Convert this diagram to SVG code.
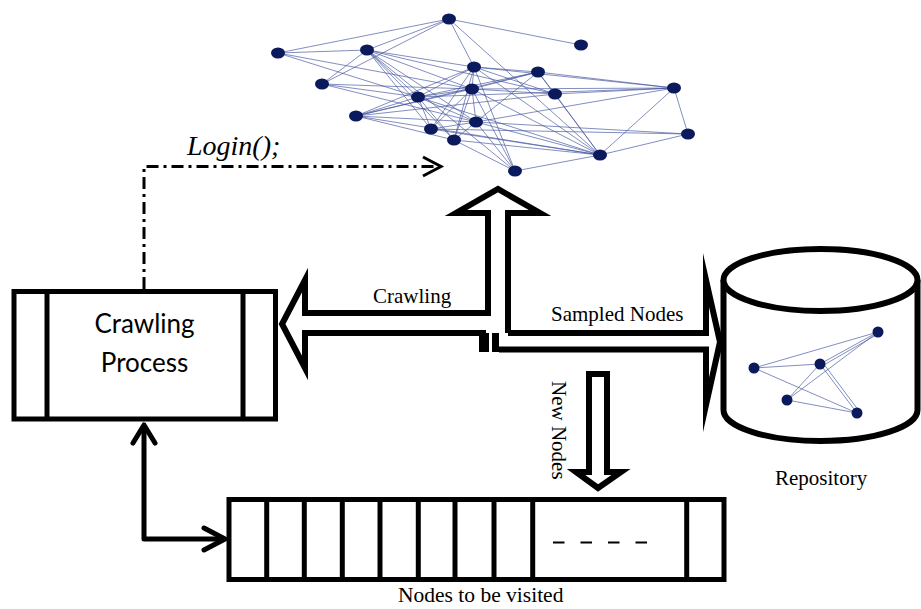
<svg xmlns="http://www.w3.org/2000/svg" width="921" height="609" viewBox="0 0 921 609">
  <style>
    .outline { fill: #fff; stroke: #000; stroke-width: 6; stroke-linejoin: miter; stroke-miterlimit: 20; }
    .box { fill: #fff; stroke: #000; stroke-width: 5; }
    .div { stroke: #000; stroke-width: 5; }
    .edge { stroke: #41519c; stroke-width: 1; stroke-opacity: 0.65; }
    .vtx { fill: #0b1a5c; }
    .serif { font-family: "Liberation Serif", "Times New Roman", serif; font-size: 21px; fill: #000; }
    .login { font-size: 28px; font-style: italic; }
    .sans { font-family: Lato, "Liberation Sans", sans-serif; font-size: 26px; fill: #000; }
    .dashdot { fill: none; stroke: #000; stroke-width: 3; stroke-dasharray: 12 5 3 5; }
    .thin { fill: none; stroke: #000; stroke-width: 3; }
    .link { fill: none; stroke: #000; stroke-width: 5; stroke-linecap: round; stroke-linejoin: round; }
  </style>

  <!-- social network being crawled -->
  <g id="network">
    <g id="network-edges">
      <line class="edge" x1="278" y1="53" x2="449" y2="19"/>
      <line class="edge" x1="278" y1="53" x2="367" y2="50"/>
      <line class="edge" x1="278" y1="53" x2="418" y2="97"/>
      <line class="edge" x1="278" y1="53" x2="472" y2="89"/>
      <line class="edge" x1="449" y1="19" x2="367" y2="50"/>
      <line class="edge" x1="449" y1="19" x2="322" y2="84"/>
      <line class="edge" x1="449" y1="19" x2="581" y2="45"/>
      <line class="edge" x1="449" y1="19" x2="600" y2="155"/>
      <line class="edge" x1="449" y1="19" x2="474" y2="67"/>
      <line class="edge" x1="367" y1="50" x2="322" y2="84"/>
      <line class="edge" x1="367" y1="50" x2="474" y2="67"/>
      <line class="edge" x1="367" y1="50" x2="418" y2="97"/>
      <line class="edge" x1="367" y1="50" x2="431" y2="129"/>
      <line class="edge" x1="367" y1="50" x2="454" y2="140"/>
      <line class="edge" x1="367" y1="50" x2="476" y2="122"/>
      <line class="edge" x1="367" y1="50" x2="472" y2="89"/>
      <line class="edge" x1="367" y1="50" x2="555" y2="94"/>
      <line class="edge" x1="367" y1="50" x2="515" y2="171"/>
      <line class="edge" x1="322" y1="84" x2="418" y2="97"/>
      <line class="edge" x1="322" y1="84" x2="472" y2="89"/>
      <line class="edge" x1="322" y1="84" x2="476" y2="122"/>
      <line class="edge" x1="356" y1="116" x2="418" y2="97"/>
      <line class="edge" x1="356" y1="116" x2="474" y2="67"/>
      <line class="edge" x1="356" y1="116" x2="472" y2="89"/>
      <line class="edge" x1="356" y1="116" x2="538" y2="72"/>
      <line class="edge" x1="356" y1="116" x2="476" y2="122"/>
      <line class="edge" x1="356" y1="116" x2="454" y2="140"/>
      <line class="edge" x1="356" y1="116" x2="600" y2="155"/>
      <line class="edge" x1="356" y1="116" x2="555" y2="94"/>
      <line class="edge" x1="418" y1="97" x2="474" y2="67"/>
      <line class="edge" x1="418" y1="97" x2="472" y2="89"/>
      <line class="edge" x1="418" y1="97" x2="431" y2="129"/>
      <line class="edge" x1="418" y1="97" x2="454" y2="140"/>
      <line class="edge" x1="418" y1="97" x2="476" y2="122"/>
      <line class="edge" x1="418" y1="97" x2="674" y2="88"/>
      <line class="edge" x1="418" y1="97" x2="600" y2="155"/>
      <line class="edge" x1="418" y1="97" x2="538" y2="72"/>
      <line class="edge" x1="431" y1="129" x2="474" y2="67"/>
      <line class="edge" x1="431" y1="129" x2="472" y2="89"/>
      <line class="edge" x1="431" y1="129" x2="476" y2="122"/>
      <line class="edge" x1="431" y1="129" x2="600" y2="155"/>
      <line class="edge" x1="431" y1="129" x2="688" y2="134"/>
      <line class="edge" x1="454" y1="140" x2="474" y2="67"/>
      <line class="edge" x1="454" y1="140" x2="472" y2="89"/>
      <line class="edge" x1="454" y1="140" x2="515" y2="171"/>
      <line class="edge" x1="454" y1="140" x2="600" y2="155"/>
      <line class="edge" x1="454" y1="140" x2="476" y2="122"/>
      <line class="edge" x1="476" y1="122" x2="538" y2="72" stroke-width="1.5"/>
      <line class="edge" x1="476" y1="122" x2="472" y2="89"/>
      <line class="edge" x1="476" y1="122" x2="674" y2="88"/>
      <line class="edge" x1="476" y1="122" x2="600" y2="155"/>
      <line class="edge" x1="476" y1="122" x2="515" y2="171"/>
      <line class="edge" x1="476" y1="122" x2="688" y2="134"/>
      <line class="edge" x1="474" y1="67" x2="538" y2="72"/>
      <line class="edge" x1="474" y1="67" x2="472" y2="89"/>
      <line class="edge" x1="474" y1="67" x2="674" y2="88"/>
      <line class="edge" x1="474" y1="67" x2="515" y2="171"/>
      <line class="edge" x1="474" y1="67" x2="600" y2="155"/>
      <line class="edge" x1="474" y1="67" x2="555" y2="94"/>
      <line class="edge" x1="472" y1="89" x2="538" y2="72"/>
      <line class="edge" x1="472" y1="89" x2="555" y2="94"/>
      <line class="edge" x1="472" y1="89" x2="674" y2="88"/>
      <line class="edge" x1="472" y1="89" x2="515" y2="171"/>
      <line class="edge" x1="472" y1="89" x2="600" y2="155"/>
      <line class="edge" x1="538" y1="72" x2="555" y2="94"/>
      <line class="edge" x1="538" y1="72" x2="674" y2="88"/>
      <line class="edge" x1="538" y1="72" x2="600" y2="155"/>
      <line class="edge" x1="555" y1="94" x2="674" y2="88"/>
      <line class="edge" x1="555" y1="94" x2="600" y2="155" stroke-width="1.5"/>
      <line class="edge" x1="674" y1="88" x2="600" y2="155"/>
      <line class="edge" x1="674" y1="88" x2="688" y2="134"/>
      <line class="edge" x1="688" y1="134" x2="600" y2="155"/>
      <line class="edge" x1="600" y1="155" x2="515" y2="171"/>
    </g>
    <g id="network-vertices">
      <ellipse class="vtx" cx="449" cy="19" rx="7" ry="5.5"/>
      <ellipse class="vtx" cx="581" cy="45" rx="7" ry="5.5"/>
      <ellipse class="vtx" cx="278" cy="53" rx="7" ry="5.5"/>
      <ellipse class="vtx" cx="367" cy="50" rx="7" ry="5.5"/>
      <ellipse class="vtx" cx="322" cy="84" rx="7" ry="5.5"/>
      <ellipse class="vtx" cx="474" cy="67" rx="7" ry="5.5"/>
      <ellipse class="vtx" cx="472" cy="89" rx="7" ry="5.5"/>
      <ellipse class="vtx" cx="418" cy="97" rx="7" ry="5.5"/>
      <ellipse class="vtx" cx="356" cy="116" rx="7" ry="5.5"/>
      <ellipse class="vtx" cx="431" cy="129" rx="7" ry="5.5"/>
      <ellipse class="vtx" cx="454" cy="140" rx="7" ry="5.5"/>
      <ellipse class="vtx" cx="476" cy="122" rx="7" ry="5.5"/>
      <ellipse class="vtx" cx="538" cy="72" rx="7" ry="5.5"/>
      <ellipse class="vtx" cx="555" cy="94" rx="7" ry="5.5"/>
      <ellipse class="vtx" cx="674" cy="88" rx="7" ry="5.5"/>
      <ellipse class="vtx" cx="688" cy="134" rx="7" ry="5.5"/>
      <ellipse class="vtx" cx="600" cy="155" rx="7" ry="5.5"/>
      <ellipse class="vtx" cx="515" cy="171" rx="7" ry="5.5"/>
    </g>
  </g>

  <!-- connectors -->
  <g id="connectors">
    <!-- Login(); dash-dot call to the network -->
    <path class="dashdot" d="M144,289 V166.5 H438"/>
    <path class="thin" d="M423,157 L441,166.5 L423,176"/>
    <text class="serif login" x="187" y="155">Login();</text>

    <!-- Crawling block arrow (left) joined with the up arrow -->
    <polyline class="outline" points="486,333 305,333 305,368 282,324 305,280 305,313 488,313 488,213 456,213 498,189 540,213 508,213 508,333"/>
    <text class="serif" x="373" y="303">Crawling</text>

    <!-- Sampled Nodes block arrow (right) -->
    <polyline class="outline" points="508,333 706,333 706,280 720,342 706,405 706,349.5 499,349.5"/>
    <rect x="479" y="333" width="10" height="19" fill="#000"/>
    <rect x="492" y="333" width="7" height="19" fill="#000"/>
    <text class="serif" x="551" y="321">Sampled Nodes</text>

    <!-- New Nodes block arrow (down) -->
    <polygon class="outline" stroke-width="5" points="589,374 607,374 607,472 621,472 598,488 576,472 589,472"/>
    <text class="serif" transform="translate(552,381) rotate(90)">New Nodes</text>

    <!-- two-way link between the process and the queue -->
    <path class="link" d="M144,428 V539 H222"/>
    <path class="link" d="M133,443 L144,425 L155,443"/>
    <path class="link" d="M204,528 L225,539 L204,550"/>
  </g>

  <!-- crawling process -->
  <g id="crawling-process">
    <rect class="box" x="14" y="291.5" width="261.5" height="127.5"/>
    <line class="div" x1="47" y1="291.5" x2="47" y2="419"/>
    <line class="div" x1="243" y1="291.5" x2="243" y2="419"/>
    <text class="sans" x="144.5" y="333" text-anchor="middle">Crawling</text>
    <text class="sans" x="144.5" y="372" text-anchor="middle">Process</text>
  </g>

  <!-- repository -->
  <g id="repository">
    <path fill="#fff" stroke="#000" stroke-width="6" d="M723.5,280 V410 A97,31 0 0 0 917.5,410 V280"/>
    <ellipse cx="820.5" cy="280" rx="97" ry="31" fill="#fff" stroke="#000" stroke-width="6"/>
    <g id="repository-edges">
      <line class="edge" x1="754" y1="368" x2="878" y2="332"/>
      <line class="edge" x1="754" y1="368" x2="820" y2="364"/>
      <line class="edge" x1="820" y1="364" x2="878" y2="332"/>
      <line class="edge" x1="822" y1="366" x2="878" y2="334"/>
      <line class="edge" x1="820" y1="364" x2="787" y2="400"/>
      <line class="edge" x1="787" y1="400" x2="878" y2="332"/>
      <line class="edge" x1="754" y1="368" x2="857" y2="413"/>
      <line class="edge" x1="787" y1="400" x2="857" y2="413"/>
      <line class="edge" x1="820" y1="364" x2="857" y2="413"/>
      <line class="edge" x1="823" y1="363" x2="859" y2="411"/>
    </g>
    <circle class="vtx" cx="878" cy="332" r="5.5"/>
    <circle class="vtx" cx="754" cy="368" r="5.5"/>
    <circle class="vtx" cx="820" cy="364" r="5.5"/>
    <circle class="vtx" cx="787" cy="400" r="5.5"/>
    <circle class="vtx" cx="857" cy="413" r="5.5"/>
    <text class="serif" x="775" y="485">Repository</text>
  </g>

  <!-- queue of nodes to be visited -->
  <g id="queue">
    <rect class="box" x="229" y="499.5" width="495" height="80"/>
    <line class="div" x1="266.7" y1="499.5" x2="266.7" y2="579.5"/>
    <line class="div" x1="304.3" y1="499.5" x2="304.3" y2="579.5"/>
    <line class="div" x1="342.3" y1="499.5" x2="342.3" y2="579.5"/>
    <line class="div" x1="380" y1="499.5" x2="380" y2="579.5"/>
    <line class="div" x1="418.3" y1="499.5" x2="418.3" y2="579.5"/>
    <line class="div" x1="455" y1="499.5" x2="455" y2="579.5"/>
    <line class="div" x1="494" y1="499.5" x2="494" y2="579.5"/>
    <line class="div" x1="532.7" y1="499.5" x2="532.7" y2="579.5"/>
    <line class="div" x1="686.7" y1="499.5" x2="686.7" y2="579.5"/>
    <line x1="553" y1="542.5" x2="652" y2="542.5" stroke="#000" stroke-width="2" stroke-dasharray="11.5 16"/>
    <text class="serif" x="398" y="602" style="font-size:21.5px">Nodes to be visited</text>
  </g>
</svg>
